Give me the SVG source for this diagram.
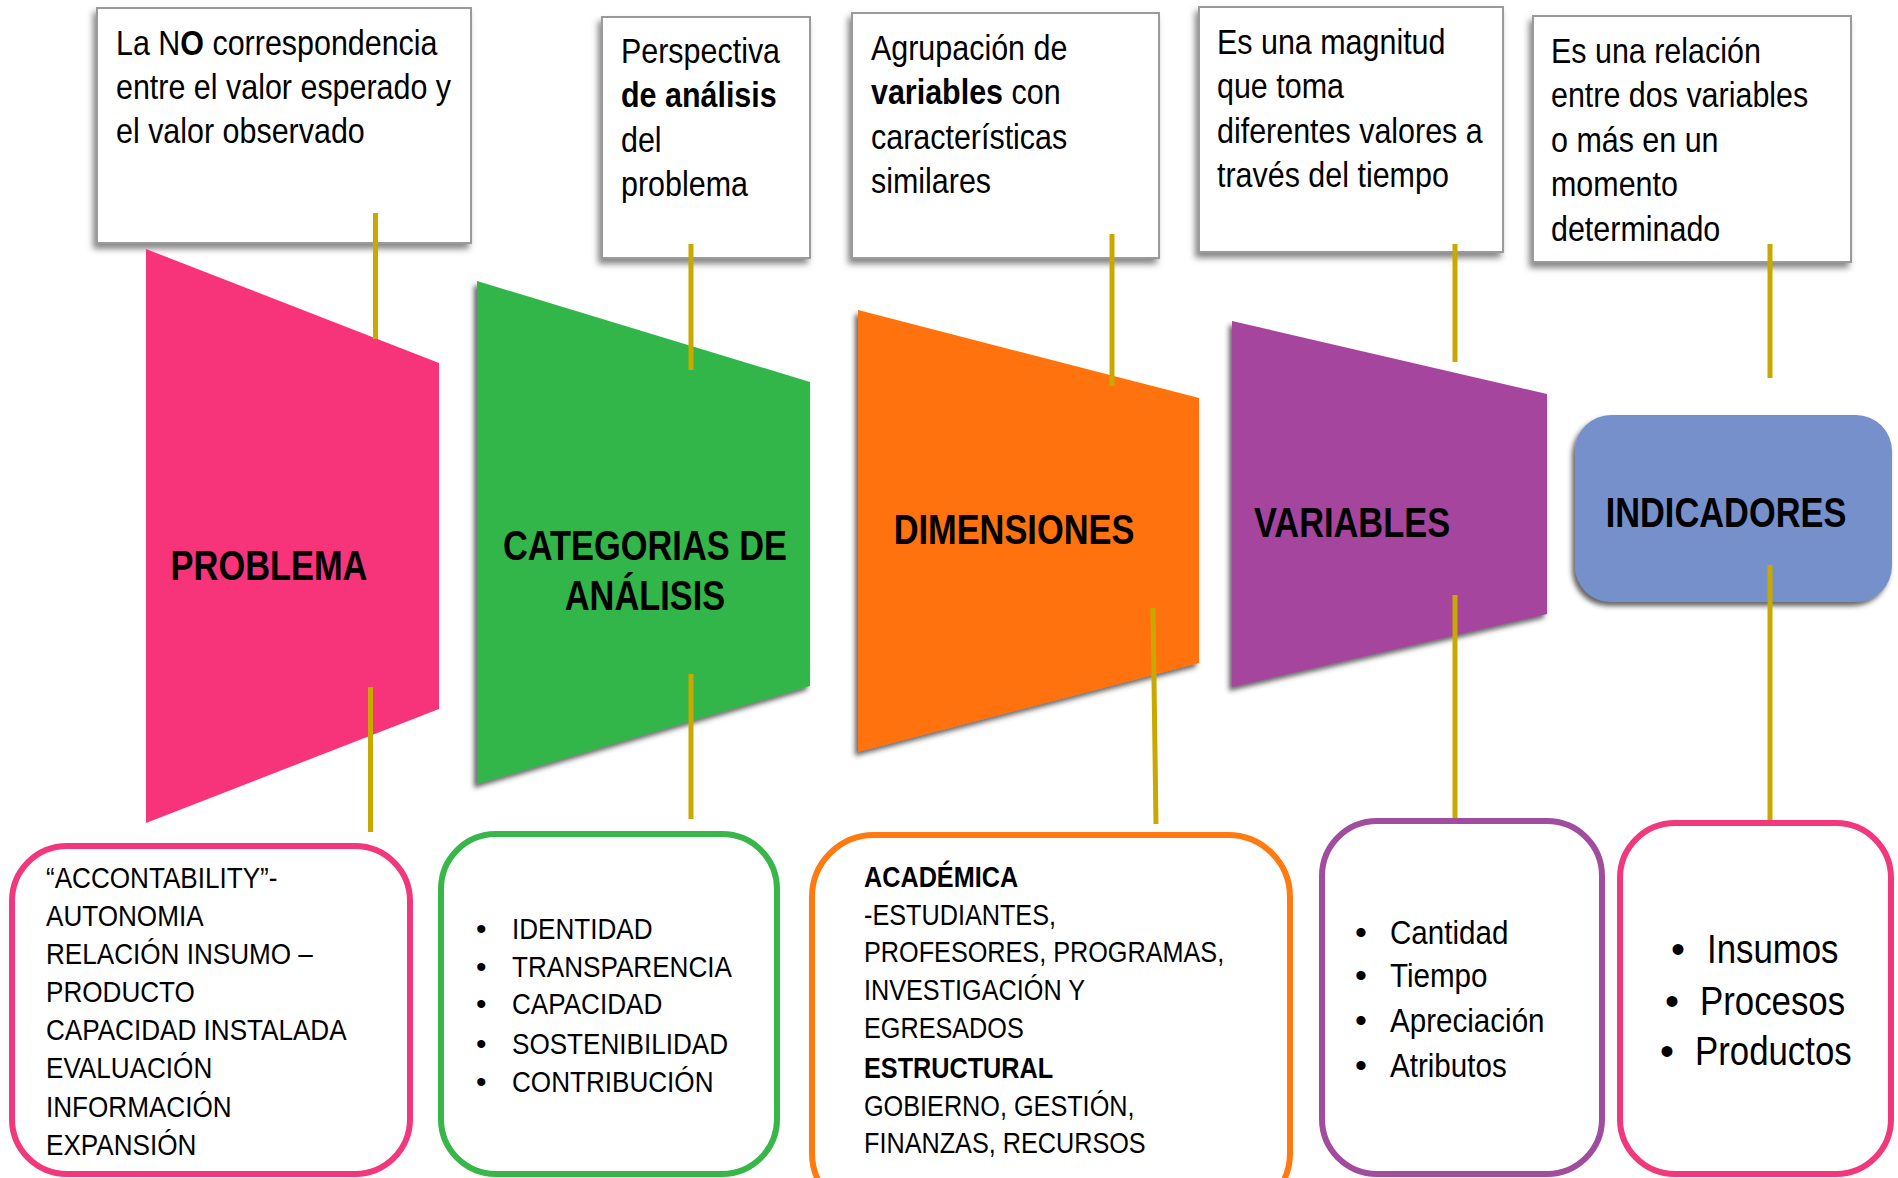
<svg xmlns="http://www.w3.org/2000/svg" width="1898" height="1178" viewBox="0 0 1898 1178">
<defs>
<filter id="sh" x="-10%" y="-10%" width="125%" height="125%">
<feDropShadow dx="-3" dy="4" stdDeviation="2.5" flood-color="#333" flood-opacity="0.75"/>
</filter>
<filter id="shb" x="-10%" y="-10%" width="125%" height="125%">
<feDropShadow dx="-3" dy="5" stdDeviation="3" flood-color="#555" flood-opacity="0.7"/>
</filter>
</defs>
<style>
text{font-family:"Liberation Sans",Arial,sans-serif;fill:#000}
.top{font-size:35px}
.lab{font-size:43px;font-weight:bold;text-anchor:middle}
.b{font-weight:bold}
.def{fill:#fff;stroke:#9a9a9a;stroke-width:2}
.conn{stroke:#C9A800;stroke-width:5;fill:none}
.box{fill:#fff;stroke-width:6}
.s30{font-size:30px}
.s29{font-size:29px}
.s34{font-size:34px}
.s40{font-size:40px}
</style>

<g id="def-problema">
<rect class="def" x="97" y="8" width="374" height="235" filter="url(#shb)"/>
<text class="top" transform="translate(116,55) scale(0.87,1)"><tspan x="0" y="0">La N<tspan class="b">O</tspan> correspondencia</tspan><tspan x="0" y="44">entre el valor esperado y</tspan><tspan x="0" y="88">el valor observado</tspan></text>
</g>
<g id="def-categorias">
<rect class="def" x="602" y="17" width="208" height="241" filter="url(#shb)"/>
<text class="top" transform="translate(621,63) scale(0.87,1)"><tspan x="0" y="0">Perspectiva</tspan><tspan x="0" y="44.5" class="b">de análisis</tspan><tspan x="0" y="89">del</tspan><tspan x="0" y="133.5">problema</tspan></text>
</g>
<g id="def-dimensiones">
<rect class="def" x="852" y="13" width="307" height="245" filter="url(#shb)"/>
<text class="top" transform="translate(871,60) scale(0.87,1)"><tspan x="0" y="0">Agrupación de</tspan><tspan x="0" y="44.5"><tspan class="b">variables</tspan> con</tspan><tspan x="0" y="89">características</tspan><tspan x="0" y="133.5">similares</tspan></text>
</g>
<g id="def-variables">
<rect class="def" x="1199" y="7" width="304" height="245" filter="url(#shb)"/>
<text class="top" transform="translate(1217,54) scale(0.87,1)"><tspan x="0" y="0">Es una magnitud</tspan><tspan x="0" y="44.5">que toma</tspan><tspan x="0" y="89">diferentes valores a</tspan><tspan x="0" y="133.5">través del tiempo</tspan></text>
</g>
<g id="def-indicadores">
<rect class="def" x="1533" y="16" width="318" height="246" filter="url(#shb)"/>
<text class="top" transform="translate(1551,63) scale(0.87,1)"><tspan x="0" y="0">Es una relación</tspan><tspan x="0" y="44.5">entre dos variables</tspan><tspan x="0" y="89">o más en un</tspan><tspan x="0" y="133.5">momento</tspan><tspan x="0" y="178">determinado</tspan></text>
</g>

<g id="problema">
<polygon points="146,249 439,363 439,709 146,823" fill="#F7347A"/>
<text class="lab" transform="translate(269,580) scale(0.8,1)">PROBLEMA</text>
</g>
<g id="categorias">
<polygon points="477,281 810,382 810,686 477,784" fill="#33B54A" filter="url(#sh)"/>
<text class="lab" transform="translate(645,560) scale(0.8,1)"><tspan x="0" y="0">CATEGORIAS DE</tspan><tspan x="0" y="50">ANÁLISIS</tspan></text>
</g>
<g id="dimensiones">
<polygon points="858,310 1199,398 1199,663 858,752" fill="#FF7207" filter="url(#sh)"/>
<text class="lab" transform="translate(1014,544) scale(0.8,1)">DIMENSIONES</text>
</g>
<g id="variables">
<polygon points="1232,321 1547,394 1547,614 1232,687" fill="#A5449E" filter="url(#sh)"/>
<text class="lab" transform="translate(1352,537) scale(0.8,1)">VARIABLES</text>
</g>
<g id="indicadores">
<rect x="1575" y="415" width="317" height="187" rx="36" fill="#7490CB" filter="url(#sh)"/>
<text class="lab" transform="translate(1726,527) scale(0.8,1)">INDICADORES</text>
</g>

<g id="connectors">
<line class="conn" x1="375.5" y1="213" x2="375.5" y2="339"/>
<line class="conn" x1="691" y1="244" x2="691" y2="370"/>
<line class="conn" x1="1112" y1="234" x2="1112" y2="386"/>
<line class="conn" x1="1455" y1="244" x2="1455" y2="362"/>
<line class="conn" x1="1770" y1="244" x2="1770" y2="378"/>
<line class="conn" x1="370.5" y1="687" x2="370.5" y2="832"/>
<line class="conn" x1="691" y1="674" x2="691" y2="819"/>
<line class="conn" x1="1153" y1="608" x2="1156" y2="824"/>
<line class="conn" x1="1455" y1="595" x2="1455" y2="820"/>
<line class="conn" x1="1770" y1="565" x2="1770" y2="833"/>
</g>

<g id="list-problema">
<rect class="box" x="12" y="846" width="398" height="328" rx="55" stroke="#F2387C"/>
<text class="s30" transform="translate(46,888) scale(0.87,1)"><tspan x="0" y="0">“ACCONTABILITY”-</tspan><tspan x="0" y="38.1">AUTONOMIA</tspan><tspan x="0" y="76.2">RELACIÓN INSUMO –</tspan><tspan x="0" y="114.3">PRODUCTO</tspan><tspan x="0" y="152.4">CAPACIDAD INSTALADA</tspan><tspan x="0" y="190.5">EVALUACIÓN</tspan><tspan x="0" y="228.6">INFORMACIÓN</tspan><tspan x="0" y="266.7">EXPANSIÓN</tspan></text>
</g>
<g id="list-categorias">
<rect class="box" x="441" y="834" width="336" height="340" rx="55" stroke="#38B64A"/>
<g class="s30">
<text x="476" y="939">•</text><text x="476" y="977">•</text><text x="476" y="1014">•</text><text x="476" y="1054">•</text><text x="476" y="1092">•</text>
</g>
<text class="s30" transform="translate(512,939) scale(0.87,1)"><tspan x="0" y="0">IDENTIDAD</tspan><tspan x="0" y="38">TRANSPARENCIA</tspan><tspan x="0" y="75">CAPACIDAD</tspan><tspan x="0" y="115">SOSTENIBILIDAD</tspan><tspan x="0" y="153">CONTRIBUCIÓN</tspan></text>
</g>
<g id="list-dimensiones">
<rect class="box" x="812" y="835" width="478" height="380" rx="62" stroke="#FF7A0F"/>
<text class="s29" transform="translate(864,887) scale(0.87,1)"><tspan x="0" y="0" class="b">ACADÉMICA</tspan><tspan x="0" y="38">-ESTUDIANTES,</tspan><tspan x="0" y="75">PROFESORES, PROGRAMAS,</tspan><tspan x="0" y="113">INVESTIGACIÓN Y</tspan><tspan x="0" y="151">EGRESADOS</tspan><tspan x="0" y="191" class="b">ESTRUCTURAL</tspan><tspan x="0" y="229">GOBIERNO, GESTIÓN,</tspan><tspan x="0" y="266">FINANZAS, RECURSOS</tspan></text>
</g>
<g id="list-variables">
<rect class="box" x="1322" y="821" width="280" height="353" rx="55" stroke="#A04DA0"/>
<g class="s34">
<text x="1355" y="944">•</text><text x="1355" y="987">•</text><text x="1355" y="1032">•</text><text x="1355" y="1077">•</text>
</g>
<text class="s34" transform="translate(1390,944) scale(0.87,1)"><tspan x="0" y="0">Cantidad</tspan><tspan x="0" y="43">Tiempo</tspan><tspan x="0" y="88">Apreciación</tspan><tspan x="0" y="133">Atributos</tspan></text>
</g>
<g id="list-indicadores">
<rect class="box" x="1620" y="823" width="271" height="351" rx="55" stroke="#F2387C"/>
<g class="s40">
<text x="1671" y="963">•</text><text x="1665" y="1015">•</text><text x="1660" y="1065">•</text>
</g>
<text class="s40" transform="translate(1707,963) scale(0.87,1)">Insumos</text>
<text class="s40" transform="translate(1700,1015) scale(0.87,1)">Procesos</text>
<text class="s40" transform="translate(1695,1065) scale(0.87,1)">Productos</text>
</g>
</svg>
